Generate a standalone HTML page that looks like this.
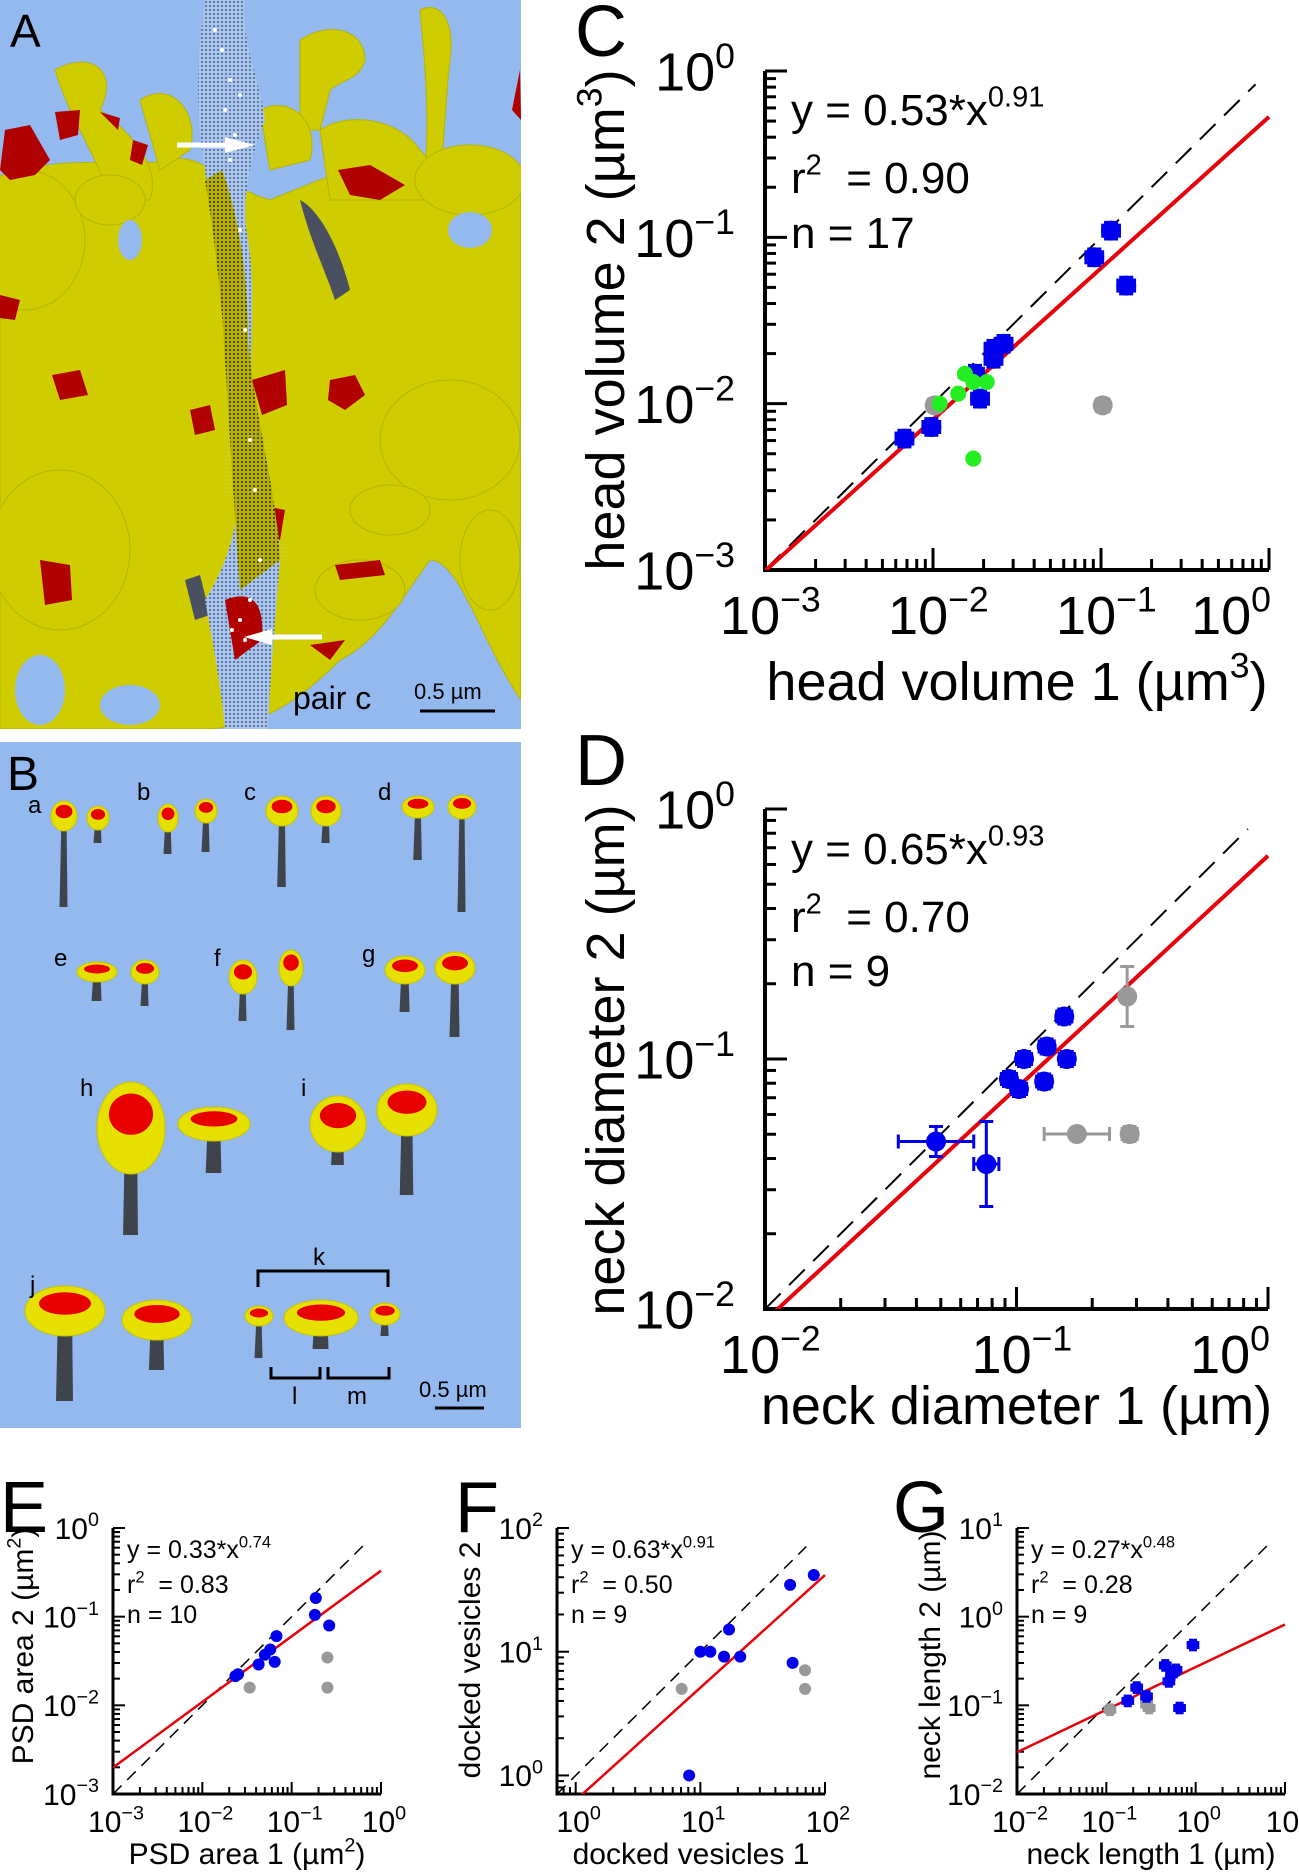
<!DOCTYPE html>
<html><head><meta charset="utf-8">
<style>
html,body{margin:0;padding:0;background:#fff;}
svg{display:block;font-family:"Liberation Sans",Arial,sans-serif;}
</style></head>
<body>
<svg id="fig" width="1299" height="1873" viewBox="0 0 1299 1873" xmlns="http://www.w3.org/2000/svg">
<defs>
  <pattern id="dotsBlue" width="4" height="4" patternUnits="userSpaceOnUse">
    <rect width="4" height="4" fill="#a9c6ea"/><circle cx="2" cy="2" r="0.9" fill="#2a3f7a"/>
  </pattern>
  <pattern id="dotsOlive" width="4" height="4" patternUnits="userSpaceOnUse">
    <rect width="4" height="4" fill="#b8b000"/><circle cx="2" cy="2" r="1" fill="#2a2a00"/>
  </pattern>
  <clipPath id="clipA"><rect x="0" y="0" width="521" height="729"/></clipPath>
</defs>

<!-- Panel A -->
<g clip-path="url(#clipA)">
  <rect x="0" y="0" width="521" height="729" fill="#93b9ef"/>
  <g fill="#cfcc00" stroke="#b8b400" stroke-width="1">
    <path d="M0,180 C60,150 120,170 170,160 C200,150 230,190 270,200 C320,180 380,150 430,170 C470,160 500,180 521,175 L521,700 C480,640 460,560 430,560 C400,600 380,640 340,660 C300,700 260,729 200,729 L0,729 Z"/>
    <path d="M55,70 C90,50 120,70 100,110 C140,140 160,170 150,200 L110,200 C100,160 70,120 55,70 Z"/>
    <path d="M140,100 C170,80 200,110 190,150 L160,170 Z"/>
    <path d="M300,40 C330,20 365,30 365,60 C360,80 340,80 330,90 L320,130 L300,130 Z"/>
    <path d="M420,10 C440,0 455,20 450,60 C445,100 445,140 440,170 L425,170 C430,120 425,60 420,10 Z"/>
    <path d="M320,130 C350,110 400,120 420,150 C440,170 440,200 420,200 L330,200 Z"/>
    <path d="M260,110 C290,95 320,120 310,160 L270,170 Z"/>
    <ellipse cx="25" cy="240" rx="60" ry="70"/>
    <ellipse cx="60" cy="550" rx="70" ry="80"/>
    <ellipse cx="450" cy="440" rx="70" ry="60"/>
    <ellipse cx="110" cy="200" rx="35" ry="25"/>
    <ellipse cx="470" cy="180" rx="55" ry="35"/>
    <ellipse cx="360" cy="590" rx="45" ry="30"/>
    <ellipse cx="390" cy="510" rx="40" ry="25"/>
    <ellipse cx="490" cy="560" rx="30" ry="50"/>
  </g>
  <g fill="#93b9ef">
    <ellipse cx="130" cy="240" rx="12" ry="20"/>
    <ellipse cx="470" cy="230" rx="22" ry="18"/>
    <ellipse cx="440" cy="660" rx="30" ry="25"/>
    <ellipse cx="40" cy="690" rx="25" ry="35"/>
    <ellipse cx="130" cy="705" rx="30" ry="20"/>
  </g>
  <g fill="#b00000">
    <path d="M5,130 L30,125 L50,160 L35,175 L10,180 L0,170 Z"/>
    <path d="M55,112 L80,110 L78,135 L60,140 Z"/>
    <path d="M133,140 L148,145 L142,165 L130,160 Z"/>
    <path d="M338,170 L370,165 L405,185 L380,200 L350,195 Z"/>
    <path d="M330,380 L355,375 L365,395 L345,410 L328,400 Z"/>
    <path d="M52,375 L80,370 L88,395 L60,400 Z"/>
    <path d="M190,410 L210,405 L215,430 L195,435 Z"/>
    <path d="M40,560 L70,565 L72,600 L45,605 Z"/>
    <path d="M260,505 L285,510 L280,540 L262,535 Z"/>
    <path d="M335,565 L380,560 L385,575 L340,580 Z"/>
    <path d="M310,645 L345,640 L330,660 Z"/>
    <path d="M520,70 L521,120 L512,110 Z"/>
    <path d="M0,295 L20,300 L15,320 L0,318 Z"/>
    <path d="M100,112 L120,118 L118,130 Z"/>
  </g>
  <path d="M300,200 C320,210 340,250 350,290 L335,300 C325,270 310,240 300,200 Z" fill="#4a5060"/>
  <path d="M185,580 L200,575 L210,615 L195,620 Z" fill="#4a5060"/>
  <path d="M205,0 L245,0 C240,40 260,80 265,120 C250,160 240,200 248,240 C258,300 245,360 255,420 C265,470 280,520 280,560 C275,620 270,680 268,729 L225,729 C220,680 212,640 205,600 C230,560 240,520 240,470 C235,410 230,340 225,280 C215,230 205,180 200,130 C195,80 200,40 205,0 Z" fill="url(#dotsBlue)"/>
  <path d="M222,170 C240,220 248,280 248,340 C255,420 275,480 280,560 L240,590 C235,520 230,440 225,360 C222,300 215,240 205,180 Z" fill="url(#dotsOlive)"/>
  <path d="M225,600 C250,590 265,600 262,640 L235,660 Z" fill="#b00000"/>
  <path d="M252,380 L285,370 L287,405 L262,415 Z" fill="#b00000"/>
  <g fill="#ffffff">
    <circle cx="215" cy="30" r="2"/><circle cx="222" cy="50" r="2"/><circle cx="230" cy="80" r="2"/><circle cx="225" cy="110" r="2"/>
    <circle cx="240" cy="95" r="2"/><circle cx="235" cy="135" r="2"/><circle cx="230" cy="160" r="2"/><circle cx="240" cy="230" r="2"/>
    <circle cx="245" cy="330" r="2"/><circle cx="250" cy="440" r="2"/><circle cx="255" cy="490" r="2"/><circle cx="240" cy="620" r="2"/>
    <circle cx="232" cy="630" r="2"/><circle cx="245" cy="640" r="2"/><circle cx="260" cy="560" r="2"/><circle cx="250" cy="600" r="2"/>
  </g>
  <g>
    <line x1="177" y1="145" x2="228" y2="145" stroke="#fff" stroke-width="5"/>
    <polygon points="225,137 255,145 225,153" fill="#fff"/>
  </g>
  <g>
    <line x1="322" y1="637" x2="268" y2="637" stroke="#fff" stroke-width="5"/>
    <polygon points="272,629 244,637 272,645" fill="#fff"/>
  </g>
  <text x="10" y="47" font-size="46">A</text>
  <text x="293" y="709" font-size="32">pair c</text>
  <text x="414" y="699" font-size="22">0.5 µm</text>
  <line x1="420" y1="711" x2="495" y2="711" stroke="#000" stroke-width="3"/>
</g>

<!-- Panel B -->
<g>
  <rect x="0" y="742" width="521" height="686" fill="#93b9ef"/>
  <g id="spines"></g>
  <g font-size="24" fill="#000">
    <text x="7" y="790" font-size="48">B</text>
    <text x="28" y="813">a</text>
    <text x="137" y="800">b</text>
    <text x="244" y="800">c</text>
    <text x="378" y="800">d</text>
    <text x="54" y="966">e</text>
    <text x="214" y="966">f</text>
    <text x="362" y="962">g</text>
    <text x="80" y="1096">h</text>
    <text x="301" y="1096">i</text>
    <text x="30" y="1293">j</text>
    <text x="313" y="1265">k</text>
    <text x="292" y="1404">l</text>
    <text x="347" y="1404">m</text>
    <text x="419" y="1397" font-size="22">0.5 µm</text>
  </g>
  <line x1="435" y1="1408" x2="484" y2="1408" stroke="#000" stroke-width="3"/>
  <g fill="none" stroke="#000" stroke-width="3">
    <path d="M258,1287 L258,1271 L388,1271 L388,1287"/>
    <path d="M271,1367 L271,1378 L320,1378 L320,1367"/>
    <path d="M328,1367 L328,1378 L389,1378 L389,1367"/>
  </g>
</g>

<g id="chartC"></g>
<g id="chartD"></g>
<g id="chartE"></g>
<g id="chartF"></g>
<g id="chartG"></g>
</svg>

<script>
// ---------- Chart data (log10 values) ----------
const cBlueX = [-2.17,-2.01,-1.04,-0.94,-0.85,-1.72,-1.64,-1.58,-1.64,-1.75];
const cBlueY = [-2.21,-2.14,-1.12,-0.96,-1.29,-1.97,-1.73,-1.64,-1.67,-1.82];
const cGrayX = [-0.99,-1.99];
const cGrayY = [-2.01,-2.01];
const cGreenX = [-1.96,-1.85,-1.81,-1.76,-1.68,-1.76];
const cGreenY = [-2.00,-1.94,-1.82,-1.87,-1.87,-2.33];
const cFit = [0.53, 0.91];
const cEq = ["y = 0.53*x", "0.91", "0.90", "17"];
const dBlueX = [-0.81,-0.88,-0.97,-0.80,-1.03,-0.89,-0.99,-1.32,-1.12];
const dBlueY = [-0.83,-0.95,-1.00,-1.00,-1.08,-1.09,-1.12,-1.33,-1.42];
const dBlueXErr = [0.03,0.03,0.03,0.03,0.03,0.03,0.03,0.15,0.05];
const dBlueYErr = [0.03,0.03,0.03,0.03,0.03,0.03,0.03,0.06,0.17];
const dGrayX = [-0.56,-0.76,-0.55];
const dGrayY = [-0.75,-1.30,-1.30];
const dGrayXErr = [0.02,0.13,0.03];
const dGrayYErr = [0.12,0.02,0.03];
const dFit = [0.65, 0.93];
const dEq = ["y = 0.65*x", "0.93", "0.70", "9"];
const eBlueX = [-1.63,-1.60,-1.37,-1.30,-1.24,-1.17,-1.19,-0.73,-0.74,-0.58];
const eBlueY = [-1.67,-1.65,-1.54,-1.43,-1.37,-1.22,-1.51,-0.79,-0.98,-1.10];
const eGrayX = [-1.47,-0.60,-0.60];
const eGrayY = [-1.80,-1.46,-1.80];
const eFit = [0.33, 0.74];
const eEq = ["y = 0.33*x", "0.74", "0.83", "10"];
const fBlueX = [0.91,1.00,1.08,1.19,1.23,1.32,1.72,1.74,1.91];
const fBlueY = [0.00,1.00,1.00,0.96,1.18,0.96,1.54,0.91,1.62];
const fGrayX = [0.85,1.84,1.84];
const fGrayY = [0.70,0.85,0.70];
const fFit = [0.63, 0.91];
const fEq = ["y = 0.63*x", "0.91", "0.50", "9"];
const gBlueX = [-0.03,-0.34,-0.66,-0.76,-0.27,-0.30,-0.22,-0.18,-0.55];
const gBlueY = [-0.32,-0.55,-0.80,-0.95,-0.65,-0.73,-0.60,-1.03,-0.90];
const gGrayX = [-0.96,-0.55,-0.52];
const gGrayY = [-1.05,-0.99,-1.03];
const gFit = [0.27, 0.48];
const gEq = ["y = 0.27*x", "0.48", "0.28", "9"];

const NS = "http://www.w3.org/2000/svg";
function el(parent, tag, attrs){ const e=document.createElementNS(NS,tag); for(const k in attrs) e.setAttribute(k,attrs[k]); parent.appendChild(e); return e; }
function supText(parent, x, y, base, sup, fs, anchor){
  const t = el(parent,"text",{x:x,y:y,"font-size":fs,"text-anchor":anchor||"start"});
  t.appendChild(document.createTextNode(base));
  const s = document.createElementNS(NS,"tspan");
  s.setAttribute("dy", -fs*0.42); s.setAttribute("font-size", fs*0.66);
  s.textContent = sup; t.appendChild(s);
  return t;
}

function chart(id, c){
  const g = document.getElementById(id);
  const sx = v => c.x0 + (v - c.lx0)/(c.lx1 - c.lx0)*(c.x1 - c.x0);
  const sy = v => c.y1 - (v - c.ly0)/(c.ly1 - c.ly0)*(c.y1 - c.y0);
  const clip = el(g,"clipPath",{id:id+"clip"});
  el(clip,"rect",{x:c.x0,y:c.y0-2,width:c.x1-c.x0+2,height:c.y1-c.y0+2});
  const tk = el(g,"g",{stroke:"#000","stroke-width":c.tw});
  
  
  for(let d=Math.floor(c.lx0); d<Math.ceil(c.lx1)+1; d++){
    for(let m=1;m<10;m++){
      const v=d+Math.log10(m); if(v<c.lx0-1e-6||v>c.lx1+1e-6) continue;
      const L = m===1?c.major:c.minor;
      el(tk,"line",{x1:sx(v),y1:c.y1,x2:sx(v),y2:c.y1-L});
    }
  }
  for(let d=Math.floor(c.ly0); d<Math.ceil(c.ly1)+1; d++){
    for(let m=1;m<10;m++){
      const v=d+Math.log10(m); if(v<c.ly0-1e-6||v>c.ly1+1e-6) continue;
      const L = m===1?c.major:c.minor;
      el(tk,"line",{x1:c.x0,y1:sy(v),x2:c.x0+L,y2:sy(v)});
    }
  }
  const ax = el(g,"path",{d:`M${c.x0},${c.y0} L${c.x0},${c.y1} L${c.x1},${c.y1}`,fill:"none",stroke:"#000","stroke-width":c.aw});
  
  
  for(const v of c.xt){
    const last = c.endLast && Math.abs(v-c.lx1)<1e-6;
    const t = supText(g, last ? c.x1+2 : sx(v)+c.fs*0.1, c.y1+c.xlOff, "10", v<0?"\u2212"+(-v):String(v), c.fs, last?"end":"middle");
    
    
  }
  for(const v of c.yt){
    const t = supText(g, c.x0-c.ylGap, sy(v)+c.fs*0.36, "10", v<0?"\u2212"+(-v):String(v), c.fs, "end");
    
    
  }
  const xt = el(g,"text",{x:(c.x0+c.x1)/2,y:c.xTitleY,"font-size":c.tfs,"text-anchor":"middle"});
  
  
  xt.appendChild(document.createTextNode(c.xTitle[0]));
  if(c.xTitle[1]){ const s=document.createElementNS(NS,"tspan"); s.setAttribute("dy",-c.tfs*0.42); s.setAttribute("font-size",c.tfs*0.66); s.textContent=c.xTitle[1]; xt.appendChild(s);
    const s2=document.createElementNS(NS,"tspan"); s2.setAttribute("dy",c.tfs*0.42); s2.textContent=c.xTitle[2]; xt.appendChild(s2);}
  const yg = el(g,"g",{transform:`translate(${c.yTitleX},${c.yTitleY}) rotate(-90)`});
  const yt = el(yg,"text",{x:0,y:0,"font-size":c.tfs,"text-anchor":"middle"});
  
  
  yt.appendChild(document.createTextNode(c.yTitle[0]));
  if(c.yTitle[1]){ const s=document.createElementNS(NS,"tspan"); s.setAttribute("dy",-c.tfs*0.42); s.setAttribute("font-size",c.tfs*0.66); s.textContent=c.yTitle[1]; yt.appendChild(s);
    const s2=document.createElementNS(NS,"tspan"); s2.setAttribute("dy",c.tfs*0.42); s2.textContent=c.yTitle[2]; yt.appendChild(s2);}
  const pl = el(g,"text",{x:c.letter[1],y:c.letter[2],"font-size":c.letter[3]});
  pl.textContent = c.letter[0];
  
  
  const eq = c.eq;
  const e1 = supText(g, c.eqX, c.eqY[0], eq[0], eq[1], c.efs, "start");
  
  
  const e2 = supText(g, c.eqX, c.eqY[1], "r", "2", c.efs, "start");
  const s3=document.createElementNS(NS,"tspan"); s3.setAttribute("dy",c.efs*0.42); s3.setAttribute("font-size",c.efs); s3.textContent="\u00a0\u00a0= "+eq[2]; e2.appendChild(s3);
  
  
  const e3 = el(g,"text",{x:c.eqX,y:c.eqY[2],"font-size":c.efs}); e3.textContent="n = "+eq[3];
  
  
  const lg = el(g,"g",{"clip-path":`url(#${id}clip)`});
  const dl = el(lg,"line",{x1:sx(c.lx0),y1:sy(c.lx0),x2:sx(c.dEnd),y2:sy(c.dEnd),stroke:"#000","stroke-width":c.dw,"stroke-dasharray":c.dash});
  
  
  const f = c.fit; const la=Math.log10(f[0]);
  const rl = el(lg,"line",{x1:sx(c.lx0),y1:sy(la+f[1]*c.lx0),x2:sx(c.lx1),y2:sy(la+f[1]*c.lx1),stroke:"#e8000b","stroke-width":c.rw});
  
  
  for(const s of c.series){
    for(let i=0;i<s.x.length;i++){
      const px=sx(s.x[i]), py=sy(s.y[i]);
      if(s.err){
        const ex = s.xe? s.xe[i] : s.err, ey = s.ye? s.ye[i] : s.err;
        const eg = el(g,"g",{stroke:s.color,"stroke-width":c.ew});
        
        
        const xa=sx(s.x[i]-ex), xb=sx(s.x[i]+ex), ya=sy(s.y[i]-ey), yb=sy(s.y[i]+ey);
        el(eg,"line",{x1:xa,y1:py,x2:xb,y2:py}); el(eg,"line",{x1:px,y1:ya,x2:px,y2:yb});
        el(eg,"line",{x1:xa,y1:py-c.cap,x2:xa,y2:py+c.cap}); el(eg,"line",{x1:xb,y1:py-c.cap,x2:xb,y2:py+c.cap});
        el(eg,"line",{x1:px-c.cap,y1:ya,x2:px+c.cap,y2:ya}); el(eg,"line",{x1:px-c.cap,y1:yb,x2:px+c.cap,y2:yb});
      }
      const m = el(g,"ellipse",{cx:px,cy:py,rx:s.r,ry:s.ry||s.r,fill:s.color});
      
      
    }
  }
}

const big = {major:22,minor:11,tw:3,aw:4,fs:54,tfs:54,efs:44,dw:2,rw:4,dash:"22,12",ew:3,cap:7,xlOff:64,ylGap:30,endLast:true};
chart("chartC", Object.assign({}, big, {
  x0:765,x1:1269,y0:71,y1:570,lx0:-3,lx1:0,ly0:-3,ly1:0,xt:[-3,-2,-1,0],yt:[-3,-2,-1,0],
  xTitle:["head volume 1 (µm","3",")"],xTitleY:700,yTitle:["head volume 2 (µm","3",")"],yTitleX:624,yTitleY:320,
  letter:["C",575,56,72],eq:cEq,eqX:791,eqY:[125,193,248],fit:cFit,dEnd:-0.08,
  series:[
    {x:cGrayX,y:cGrayY,color:"#999999",r:10,err:0.04,name:"gray-point"},
    {x:cBlueX,y:cBlueY,color:"#0000ee",r:10,err:0.05,name:"blue-point"},
    {x:cGreenX,y:cGreenY,color:"#22ee22",r:8,name:"green-point"}]
}));
chart("chartD", Object.assign({}, big, {
  x0:765,x1:1268,y0:809,y1:1309,lx0:-2,lx1:0,ly0:-2,ly1:0,xt:[-2,-1,0],yt:[-2,-1,0],
  xTitle:["neck diameter 1 (µm)"],xTitleY:1424,yTitle:["neck diameter 2 (µm)"],yTitleX:624,yTitleY:1060,
  letter:["D",575,785,72],eq:dEq,eqX:791,eqY:[864,932,986],fit:dFit,dEnd:-0.08,
  series:[
    {x:dGrayX,y:dGrayY,color:"#999999",r:10,err:1,xe:dGrayXErr,ye:dGrayYErr,name:"gray-point"},
    {x:dBlueX,y:dBlueY,color:"#0000ee",r:10,err:1,xe:dBlueXErr,ye:dBlueYErr,name:"blue-point"}]
}));
const small = {major:12,minor:7,tw:2,aw:3,fs:30,tfs:30,efs:25,dw:1.5,rw:2.5,dash:"12,8",ew:2,cap:4,xlOff:38,ylGap:14,endLast:false};
chart("chartE", Object.assign({}, small, {
  x0:113,x1:381,y0:1528,y1:1794,lx0:-3,lx1:0,ly0:-3,ly1:0,xt:[-3,-2,-1,0],yt:[-3,-2,-1,0],
  xTitle:["PSD area 1 (µm","2",")"],xTitleY:1864,yTitle:["PSD area 2 (µm","2",")"],yTitleX:33,yTitleY:1646,
  letter:["E",0,1532,72],eq:eEq,eqX:127,eqY:[1558,1593,1623],fit:eFit,dEnd:-0.15,
  series:[
    {x:eGrayX,y:eGrayY,color:"#999999",r:6,name:"gray-point"},
    {x:eBlueX,y:eBlueY,color:"#0000ee",r:6,name:"blue-point"}]
}));
chart("chartF", Object.assign({}, small, {
  x0:557,x1:825,y0:1528,y1:1794,lx0:-0.15,lx1:2,ly0:-0.15,ly1:2,xt:[0,1,2],yt:[0,1,2],
  xTitle:["docked vesicles 1"],xTitleY:1864,yTitle:["docked vesicles 2"],yTitleX:480,yTitleY:1660,
  letter:["F",455,1532,72],eq:fEq,eqX:571,eqY:[1558,1593,1623],fit:fFit,dEnd:1.85,
  series:[
    {x:fGrayX,y:fGrayY,color:"#999999",r:6,name:"gray-point"},
    {x:fBlueX,y:fBlueY,color:"#0000ee",r:6,name:"blue-point"}]
}));
chart("chartG", Object.assign({}, small, {
  x0:1017,x1:1285,y0:1528,y1:1794,lx0:-2,lx1:1,ly0:-2,ly1:1,xt:[-2,-1,0,1],yt:[-2,-1,0,1],
  xTitle:["neck length 1 (µm)"],xTitleY:1864,yTitle:["neck length 2 (µm)"],yTitleX:940,yTitleY:1655,
  letter:["G",893,1532,72],eq:gEq,eqX:1031,eqY:[1558,1593,1623],fit:gFit,dEnd:0.85,
  series:[
    {x:gGrayX,y:gGrayY,color:"#999999",r:6,err:0.06,name:"gray-point"},
    {x:gBlueX,y:gBlueY,color:"#0000ee",r:6,err:0.06,name:"blue-point"}]
}));

// ---------- Panel B spines ----------
const spines = [
  [64,816,13,15,907],[98,818,11,12,843],[168,818,10,14,854],[206,811,11,12,852],
  [282,811,16,15,887],[326,811,15,15,843],[418,807,16,11,860],[462,807,14,12,912],
  [97,972,20,10,1001],[145,972,14,12,1006],[243,977,14,17,1021],[291,968,12,18,1030],
  [405,970,20,14,1012],[455,968,20,16,1037],[131,1128,34,46,1235],[214,1124,36,17,1173],
  [338,1124,28,28,1165],[407,1110,30,26,1195],[65,1311,40,25,1401],[157,1320,35,20,1370],
  [259,1316,14,10,1358],[321,1318,37,18,1349],[385,1314,15,11,1336]
];
const sg = document.getElementById("spines");
for(const s of spines){
  const [cx,cy,rx,ry,ny]=s;
  const nw = Math.max(5, rx*0.35);
  const neck = el(sg,"path",{d:`M${cx-nw/2},${cy} L${cx+nw/2},${cy} L${cx+nw/2+1},${ny} L${cx-nw/2-2},${ny} Z`,fill:"#3f444c"});
  
  
  const head = el(sg,"ellipse",{cx:cx,cy:cy,rx:rx,ry:ry,fill:"#e6e000",stroke:"#c8c400","stroke-width":1});
  
  
  const psd = el(sg,"ellipse",{cx:cx,cy:cy-ry*0.3,rx:rx*0.65,ry:ry*0.45,fill:"#e80000"});
  
  
}
</script>
</body></html>
